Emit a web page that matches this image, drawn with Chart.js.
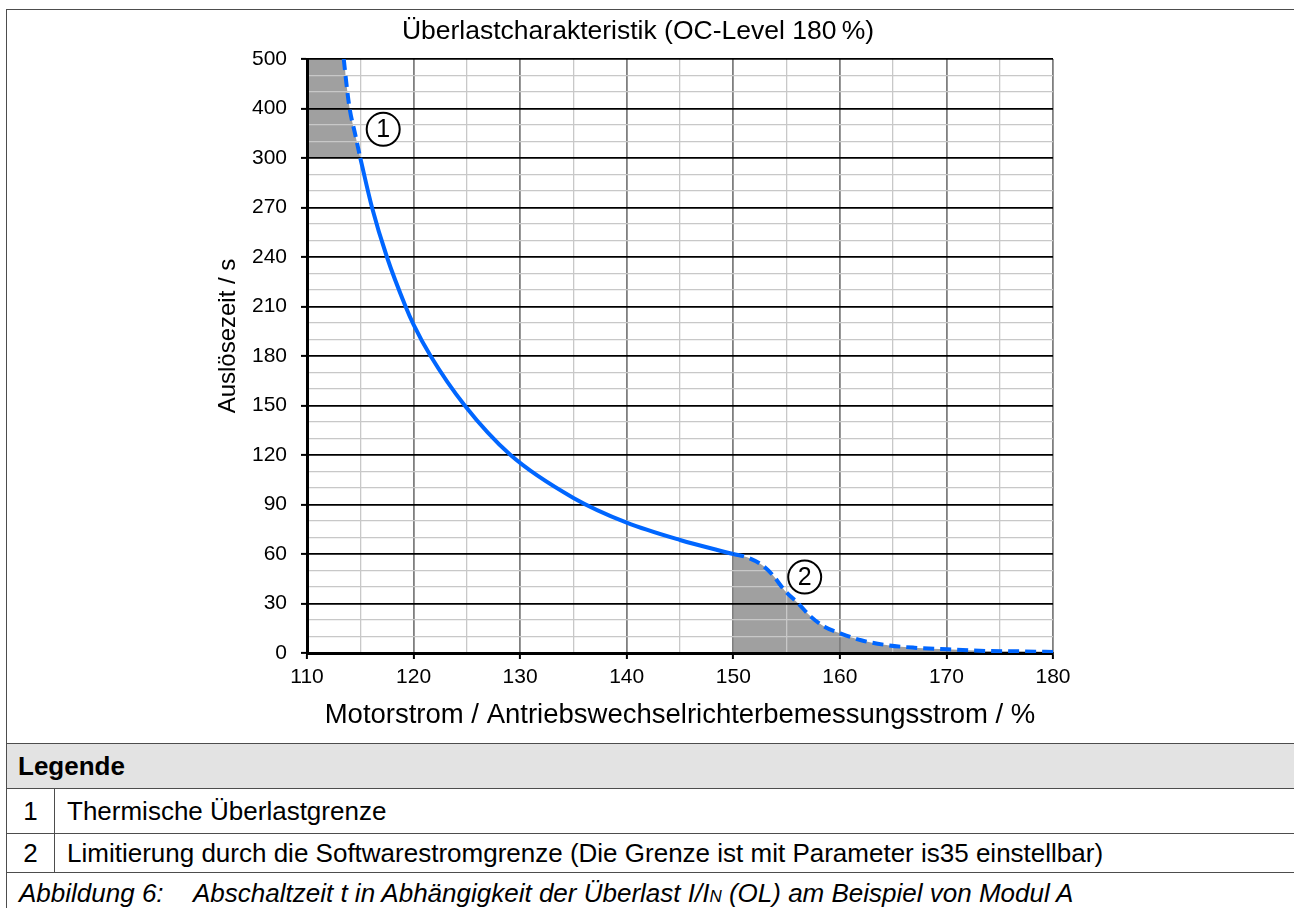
<!DOCTYPE html>
<html lang="de">
<head>
<meta charset="utf-8">
<title>Überlastcharakteristik</title>
<script src="https://cdn.jsdelivr.net/npm/chart.js@4.4.1/dist/chart.umd.min.js"></script>
<style>
    html, body { margin: 0; padding: 0; background: #fff; }
    body {
        width: 1294px; height: 908px; overflow: hidden; position: relative;
        font-family: "Liberation Sans", Arial, sans-serif; color: #000;
    }
    #frame {
        position: absolute; left: 6px; top: 9px; width: 1400px;
        border-left: 1px solid #4d4d4d; border-top: 1px solid #4d4d4d;
    }
    #chartCell { position: relative; height: 733px; }
    #chartCell canvas { position: absolute; left: 0; top: 0; }
    .row { border-top: 1px solid #4d4d4d; font-size: 26px; display: flex; }
    .hdr { background: #e3e3e3; height: 44px; line-height: 44px; font-weight: bold; padding-left: 11px; }
    .num { width: 47px; text-align: center; border-right: 1px solid #4d4d4d; }
    .txt { padding-left: 12px; }
    .r1 { height: 44px; line-height: 44px; }
    .r2 { height: 38px; line-height: 38px; }
    .cap { height: 40px; line-height: 40px; font-style: italic; position: relative; }
    .cap .lbl { position: absolute; left: 12px; }
    .cap .desc { position: absolute; left: 186px; }
    .sub { font-size: 17px; }
</style>
</head>
<body>
<div id="frame">
    <div id="chartCell"><canvas id="chart" width="1287" height="733"></canvas></div>
    <div class="row hdr">Legende</div>
    <div class="row r1"><div class="num">1</div><div class="txt">Thermische Überlastgrenze</div></div>
    <div class="row r2"><div class="num">2</div><div class="txt">Limitierung durch die Softwarestromgrenze (Die Grenze ist mit Parameter is35 einstellbar)</div></div>
    <div class="row cap"><span class="lbl">Abbildung 6:</span><span class="desc">Abschaltzeit t in Abhängigkeit der Überlast I/I<span class="sub">N</span> (OL) am Beispiel von Modul A</span></div>
</div>
<script>
// axes
const X_MIN = 110;
const X_MAX = 180;
const X_STEP = 5;          // grid every 5 %, label every 10 %
const X_LABEL_STEP = 10;
const Y_TICK_LABELS = [0, 30, 60, 90, 120, 150, 180, 210, 240, 270, 300, 400, 500];
const Y_MINOR_PER_STEP = 3;
const Y_TITLE = "Auslösezeit / s";

// thermal limit above 300 s (dashed)
const thermX = [113.45, 113.7, 114.0, 114.5, 115.0];
const thermS = [500, 450, 400, 350, 300];

// overload curve (solid)
const curveX = [115, 116.1, 117.5, 119.25, 120, 121.6, 124.8, 129.1, 135, 140, 145, 150];
const curveS = [300, 270, 240, 210, 199, 180, 150, 120, 94, 79, 68.5, 60];

// software current limit (dashed)
const limitX = [150, 151.3, 152.7, 153.7, 154.8, 156.1, 157.3, 158.6, 160.1, 162, 164.5, 167, 170.1, 173.8, 177, 180];
const limitS = [60, 58, 53.3, 47.2, 38.1, 30, 21.9, 15.8, 11.8, 7.7, 4.7, 3.2, 2.2, 1.2, 1.0, 0.6];

// shaded area 1: from the left axis at 500 s down along the thermal limit
const shade1X = [110].concat(thermX);
const shade1S = [500].concat(thermS);

// circled markers
const noteLabels = ["1", "2"];
const noteX = [117.15, 156.7];
const noteS = [358, 46];

const BLUE = "#0066ff";
const SHADE = "#a0a0a0";
const FONT = '"Liberation Sans", Arial, sans-serif';

// the y axis is evenly spaced per label, so map seconds onto label index
function toAxis(s) {
    for (let i = 0; i < Y_TICK_LABELS.length - 1; i++) {
        const a = Y_TICK_LABELS[i], b = Y_TICK_LABELS[i + 1];
        if (s <= b) return i + (s - a) / (b - a);
    }
    return Y_TICK_LABELS.length - 1;
}

function points(xs, ss) {
    return xs.map((x, i) => ({ x: x, y: toAxis(ss[i]) }));
}

function isMajorY(v) {
    return Math.abs(v - Math.round(v)) < 1e-6;
}

// circled numbers + y axis title (sits a bit above the axis middle)
const notePlugin = {
    id: "notes",
    afterDatasetsDraw(chart) {
        const { ctx, chartArea, scales: { x, y } } = chart;
        ctx.save();
        noteLabels.forEach((t, i) => {
            const px = x.getPixelForValue(noteX[i]);
            const py = y.getPixelForValue(toAxis(noteS[i]));
            ctx.beginPath();
            ctx.arc(px, py, 16.5, 0, Math.PI * 2);
            ctx.fillStyle = "#fff";
            ctx.fill();
            ctx.lineWidth = 2;
            ctx.strokeStyle = "#000";
            ctx.stroke();
            ctx.fillStyle = "#000";
            ctx.font = "25px " + FONT;
            ctx.textAlign = "center";
            ctx.textBaseline = "middle";
            ctx.fillText(t, px, py + 1);
        });

        ctx.translate(chartArea.left - 79, (chartArea.top + chartArea.bottom) / 2 - 20);
        ctx.rotate(-Math.PI / 2);
        ctx.font = "24px " + FONT;
        ctx.fillText(Y_TITLE, 0, 0);
        ctx.restore();
    },
};

Chart.defaults.font.family = FONT;
Chart.defaults.color = "#000";

const lineBase = {
    pointRadius: 0,
    pointHoverRadius: 0,
    cubicInterpolationMode: "monotone",
};

new Chart(document.getElementById("chart"), {
    type: "line",
    data: {
        datasets: [
            {
                ...lineBase,
                label: "shade1",
                data: points(shade1X, shade1S),
                borderWidth: 0,
                borderColor: "rgba(0,0,0,0)",
                backgroundColor: SHADE,
                fill: { value: toAxis(300) },
            },
            {
                ...lineBase,
                label: "shade2",
                data: points(limitX, limitS),
                borderWidth: 0,
                borderColor: "rgba(0,0,0,0)",
                backgroundColor: SHADE,
                fill: "origin",
            },
            {
                ...lineBase,
                label: "Thermische Überlastgrenze",
                data: points(thermX, thermS),
                borderColor: BLUE,
                borderWidth: 4,
                borderDash: [11, 6],
                fill: false,
            },
            {
                ...lineBase,
                label: "Kennlinie",
                data: points(curveX, curveS),
                borderColor: BLUE,
                borderWidth: 4,
                fill: false,
            },
            {
                ...lineBase,
                label: "Softwarestromgrenze",
                data: points(limitX, limitS),
                borderColor: BLUE,
                borderWidth: 4,
                borderDash: [11, 6],
                fill: false,
            },
        ],
    },
    options: {
        responsive: false,
        animation: false,
        events: [],
        layout: { padding: { left: 216, right: 241, top: 0, bottom: 0 } },
        plugins: {
            legend: { display: false },
            tooltip: { enabled: false },
            filler: { drawTime: "beforeDraw" },
            title: {
                display: true,
                text: "Überlastcharakteristik (OC-Level 180\u2009%)",
                font: { size: 26.5, weight: "normal" },
                padding: { top: 6.1, bottom: 11.1 },
            },
        },
        scales: {
            x: {
                type: "linear",
                min: X_MIN,
                max: X_MAX,
                afterBuildTicks: (axis) => {
                    const t = [];
                    for (let v = X_MIN; v <= X_MAX; v += X_STEP) t.push({ value: v });
                    axis.ticks = t;
                },
                afterFit: (axis) => { axis.height = 90; },
                ticks: {
                    autoSkip: false,
                    maxRotation: 0,
                    padding: 6,
                    font: { size: 21 },
                    callback: (v) => (v % X_LABEL_STEP === 0 ? v : ""),
                },
                grid: {
                    color: (c) => (c.tick && c.tick.value % X_LABEL_STEP === 0 ? "#7f7f7f" : "#c8c8c8"),
                    lineWidth: (c) => (c.tick && c.tick.value % X_LABEL_STEP === 0 ? 1.8 : 1.3),
                    tickLength: 6,
                    tickColor: (c) => (c.tick && c.tick.value % X_LABEL_STEP === 0 ? "#000" : "rgba(0,0,0,0)"),
                    tickWidth: 2,
                },
                border: { color: "#000", width: 3 },
                title: {
                    display: true,
                    text: "Motorstrom / Antriebswechselrichterbemessungsstrom / %",
                    font: { size: 27.5 },
                    padding: { top: 0, bottom: 11.5 },
                },
            },
            y: {
                type: "linear",
                min: 0,
                max: Y_TICK_LABELS.length - 1,
                afterBuildTicks: (axis) => {
                    const t = [];
                    for (let i = 0; i < Y_TICK_LABELS.length; i++) {
                        for (let k = 0; k < Y_MINOR_PER_STEP; k++) {
                            const v = i + k / Y_MINOR_PER_STEP;
                            if (v <= Y_TICK_LABELS.length - 1) t.push({ value: v });
                        }
                    }
                    axis.ticks = t;
                },
                afterFit: (axis) => { axis.width = 84; },
                ticks: {
                    autoSkip: false,
                    padding: 14,
                    font: { size: 21 },
                    callback: (v) => (isMajorY(v) ? Y_TICK_LABELS[Math.round(v)] : ""),
                },
                grid: {
                    color: (c) => (c.tick && isMajorY(c.tick.value) ? "#000" : "#c8c8c8"),
                    lineWidth: (c) => (c.tick && isMajorY(c.tick.value) ? 1.8 : 1.3),
                    tickLength: 6,
                    tickColor: (c) => (c.tick && isMajorY(c.tick.value) ? "#000" : "rgba(0,0,0,0)"),
                    tickWidth: 2,
                },
                border: { color: "#000", width: 3 },
                title: { display: false },
            },
        },
    },
    plugins: [notePlugin],
});
</script>
</body>
</html>
